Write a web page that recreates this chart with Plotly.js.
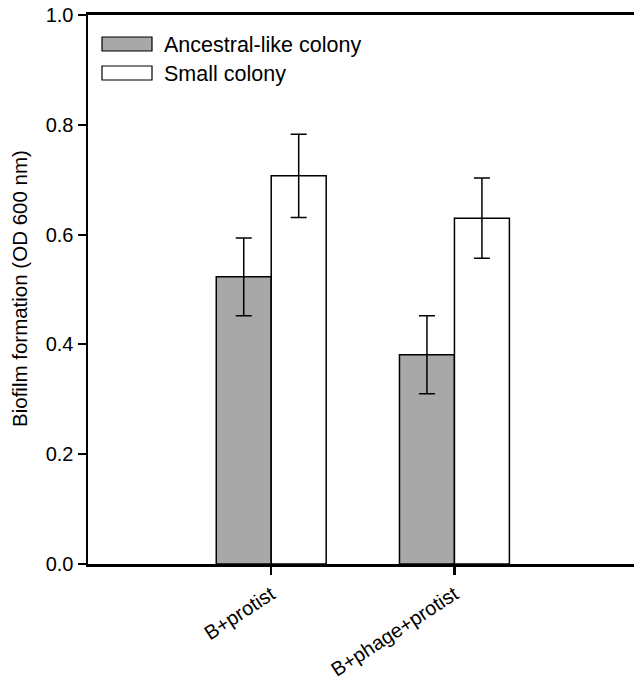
<!DOCTYPE html>
<html>
<head>
<meta charset="utf-8">
<script src="https://cdn.plot.ly/plotly-3.0.1.min.js"></script>
<style>html,body{margin:0;padding:0;background:#fff;}#chart{width:634px;height:684px;}</style>
</head>
<body>
<div id="chart"></div>
<script>
const categories = ["B+protist", "B+phage+protist"];
const seriesNames = ["Ancestral-like colony", "Small colony"];
const ancestralValues = [0.523, 0.381];
const ancestralErrors = [0.071, 0.071];
const smallValues = [0.707, 0.630];
const smallErrors = [0.076, 0.073];
const yTickValues = [0, 0.2, 0.4, 0.6, 0.8, 1.0];
const yTickLabels = ["0.0", "0.2", "0.4", "0.6", "0.8", "1.0"];

const fontFam = "Liberation Sans, Arial, sans-serif";
const colors = ["#a8a8a8", "#ffffff"];

const traces = [
  {
    type: "bar", name: seriesNames[0], x: categories, y: ancestralValues,
    marker: {color: colors[0], line: {color: "#000", width: 1.5}},
    error_y: {type: "data", array: ancestralErrors, visible: true, color: "#000", thickness: 1.5, width: 8},
    showlegend: false
  },
  {
    type: "bar", name: seriesNames[1], x: categories, y: smallValues,
    marker: {color: colors[1], line: {color: "#000", width: 1.5}},
    error_y: {type: "data", array: smallErrors, visible: true, color: "#000", thickness: 1.5, width: 8},
    showlegend: false
  }
];

const plotL = 88, plotT = 15, plotW = 546, plotH = 549;
const px = v => (v - plotL) / plotW;
const py = v => 1 - (v - plotT) / plotH;

const shapes = [];
const annotations = [];
const rowTops = [37, 66];
seriesNames.forEach((n, i) => {
  const top = rowTops[i];
  shapes.push({type: "rect", xref: "paper", yref: "paper",
    x0: px(102), x1: px(152), y0: py(top + 14), y1: py(top),
    fillcolor: colors[i], line: {color: "#000", width: 1.2}});
  annotations.push({xref: "paper", yref: "paper", x: px(162), y: py(top + 8),
    xanchor: "left", yanchor: "middle", showarrow: false, text: n,
    font: {family: fontFam, size: 21.5, color: "#000"}});
});
annotations.push({xref: "paper", yref: "paper", x: px(19), y: py(289),
  xanchor: "center", yanchor: "middle", showarrow: false, textangle: -90,
  text: "Biofilm formation (OD 600 nm)", font: {family: fontFam, size: 20.5, color: "#000"}});

const layout = {
  width: 634, height: 684,
  margin: {l: 88, r: 0, t: 15, b: 120, pad: 0},
  paper_bgcolor: "#fff", plot_bgcolor: "#fff",
  barmode: "group", bargap: 0.4, bargroupgap: 0,
  font: {family: fontFam, color: "#000"},
  xaxis: {
    range: [-1, 1.98], showgrid: false, zeroline: false,
    showline: true, linecolor: "#000", linewidth: 3, mirror: true,
    ticks: "outside", ticklen: 8, tickwidth: 2.5, tickcolor: "#000",
    tickangle: -33, tickfont: {family: fontFam, size: 20, color: "#000"}
  },
  yaxis: {
    range: [0, 1], showgrid: false, zeroline: false,
    showline: true, linecolor: "#000", linewidth: 2.5,
    ticks: "outside", ticklen: 8, tickwidth: 2, tickcolor: "#000",
    tickvals: yTickValues, ticktext: yTickLabels,
    tickfont: {family: fontFam, size: 20, color: "#000"}
  },
  shapes: shapes,
  annotations: annotations
};

Plotly.newPlot("chart", traces, layout, {displayModeBar: false, staticPlot: true});
</script>
</body>
</html>
